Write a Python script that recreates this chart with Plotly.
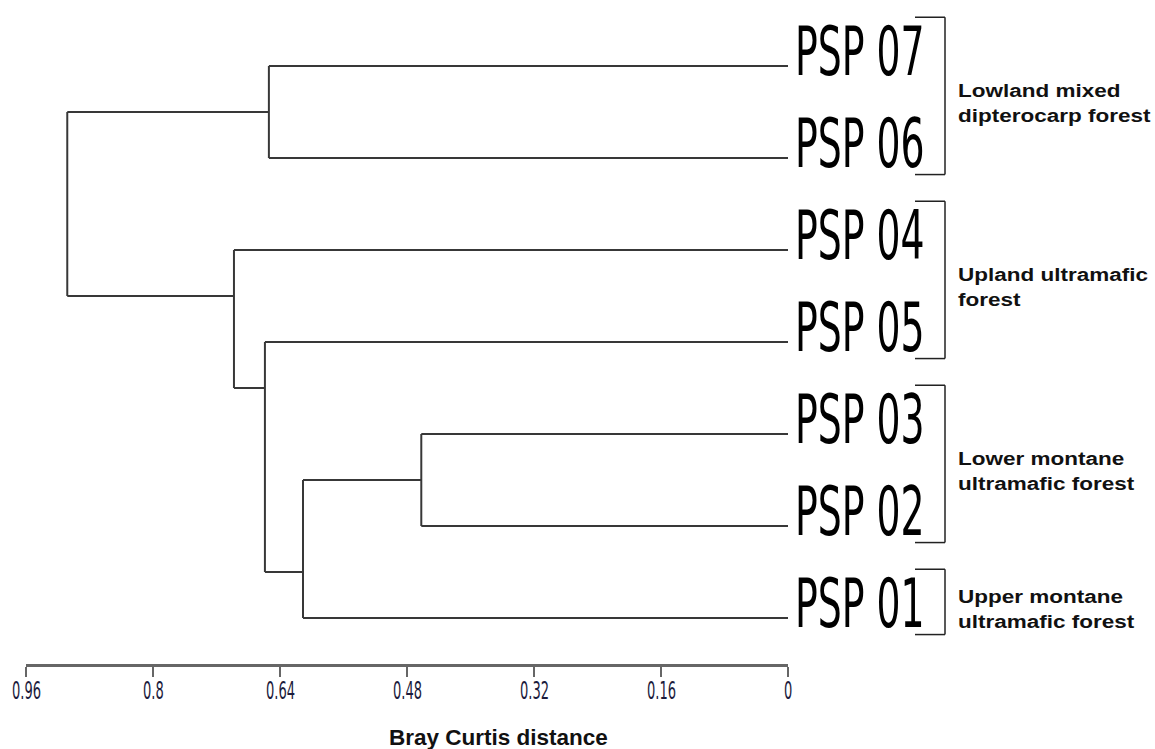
import json
import plotly.graph_objects as go

# ---------------- data ----------------
leaf_labels = ["PSP 07", "PSP 06", "PSP 04", "PSP 05", "PSP 03", "PSP 02", "PSP 01"]

# merges (upper child, lower child, Bray-Curtis distance)
merge_names = ["N1", "N2", "N3", "N4", "N5", "N6"]
merge_upper = ["PSP 03", "N1", "PSP 07", "PSP 05", "PSP 04", "N3"]
merge_lower = ["PSP 02", "PSP 01", "PSP 06", "N2", "N4", "N5"]
merge_height = [0.462, 0.611, 0.654, 0.659, 0.698, 0.908]

tick_values = [0.96, 0.8, 0.64, 0.48, 0.32, 0.16, 0]
tick_labels = ["0.96", "0.8", "0.64", "0.48", "0.32", "0.16", "0"]

group_names = [
    "Lowland mixed<br>dipterocarp forest",
    "Upland ultramafic<br>forest",
    "Lower montane<br>ultramafic forest",
    "Upper montane<br>ultramafic forest",
]
group_first = ["PSP 07", "PSP 04", "PSP 03", "PSP 01"]
group_last = ["PSP 06", "PSP 05", "PSP 02", "PSP 01"]

axis_title = "Bray Curtis distance"

# ---------------- dendrogram geometry (PAST-style) ----------------
members = {lab: [i] for i, lab in enumerate(leaf_labels)}
ypos = {lab: float(i) for i, lab in enumerate(leaf_labels)}
hgt = {lab: 0.0 for lab in leaf_labels}

xs, ys = [], []
for name, a, b, h in zip(merge_names, merge_upper, merge_lower, merge_height):
    xs += [h, h, None]
    ys += [ypos[a], ypos[b], None]
    for c in (a, b):
        xs += [hgt[c], h, None]
        ys += [ypos[c], ypos[c], None]
    members[name] = members[a] + members[b]
    ypos[name] = (max(members[a]) + min(members[b])) / 2.0
    hgt[name] = h

fig = go.Figure()
fig.add_trace(go.Scatter(
    x=xs, y=ys, mode="lines",
    line=dict(color="#383838", width=2),
    hoverinfo="skip", showlegend=False,
))

W, H = 1155, 749
narrow = "Liberation Sans Narrow, Arial Narrow, DejaVu Sans Condensed, sans-serif"
sans = "Liberation Sans, Arial, Helvetica, sans-serif"

annotations = []
stretch = {}  # annotation index -> vertical scale factor


def add_ann(scale=None, **kw):
    if scale is not None:
        stretch[len(annotations)] = scale
    annotations.append(kw)


for i, lab in enumerate(leaf_labels):
    add_ann(scale=1.63,
            xref="x domain", yref="y", x=1, y=i, xshift=5, yshift=15,
            xanchor="left", yanchor="middle", showarrow=False,
            text=lab, font=dict(family=narrow, size=42, color="black"))

shapes = []
idx = {lab: i for i, lab in enumerate(leaf_labels)}
for gname, f, l in zip(group_names, group_first, group_last):
    top = idx[f] - 0.53
    bot = idx[l] + 0.18
    xb0, xb1 = 915 / W, 945 / W
    for seg in [(xb0, top, xb1, top), (xb1, top, xb1, bot), (xb0, bot, xb1, bot)]:
        shapes.append(dict(type="line", xref="paper", yref="y",
                           x0=seg[0], y0=seg[1], x1=seg[2], y1=seg[3],
                           line=dict(color="#222222", width=1.5)))
    add_ann(scale=0.85,
            xref="paper", yref="y", x=956 / W, y=(idx[f] + idx[l]) / 2 - 0.1,
            xanchor="left", yanchor="middle", align="left", showarrow=False,
            text="<b>" + gname + "</b>",
            font=dict(family=sans, size=22.5, color="#111111"))

# tick labels (drawn at the x-axis tick values)
for v, t in zip(tick_values, tick_labels):
    add_ann(scale=1.65,
            xref="x", yref="paper", x=v, y=(H - 691) / H,
            xanchor="center", yanchor="middle", showarrow=False,
            text=t, font=dict(family=narrow, size=14.5, color="#1c1c3c"))

add_ann(xref="paper", yref="paper", x=498 / W, y=(H - 737) / H,
        xanchor="center", yanchor="middle", showarrow=False,
        text="<b>" + axis_title + "</b>",
        font=dict(family=sans, size=22.5, color="#111111"))

axis_bottom_px = 664
fig.update_layout(
    width=W, height=H,
    margin=dict(l=0, r=0, t=0, b=0, autoexpand=False),
    paper_bgcolor="white", plot_bgcolor="white",
    showlegend=False,
    xaxis=dict(
        domain=[26 / W, 788 / W], range=[0.96, 0],
        automargin=False,
        tickvals=tick_values, showticklabels=False,
        ticks="outside", ticklen=10, tickwidth=1.5, tickcolor="#666666",
        showline=True, linecolor="#666666", linewidth=2.5,
        showgrid=False, zeroline=False,
    ),
    yaxis=dict(
        domain=[(H - axis_bottom_px) / H, 1],
        range=[(axis_bottom_px - 66) / 92, -66 / 92],
        automargin=False,
        visible=False, showgrid=False, zeroline=False,
    ),
    shapes=shapes,
    annotations=annotations,
)

post = """
(function(){
  document.body.style.margin='0';
  var S = %s;
  function stretch(){
    document.querySelectorAll('g.annotation').forEach(function(g){
      var k = g.getAttribute('data-index');
      if(k!==null && S[k]!==undefined){
        var t = g.querySelector('text.annotation-text');
        if(t){
          t.style.transformBox='fill-box'; t.style.transformOrigin='center';
          t.style.transform='scaleY('+S[k]+')';
        }
      }
    });
  }
  stretch();
  setTimeout(stretch, 50);
})();
""" % json.dumps({str(k): v for k, v in stretch.items()})

fig.write_html("out.html", post_script=post, config={"displayModeBar": False})
